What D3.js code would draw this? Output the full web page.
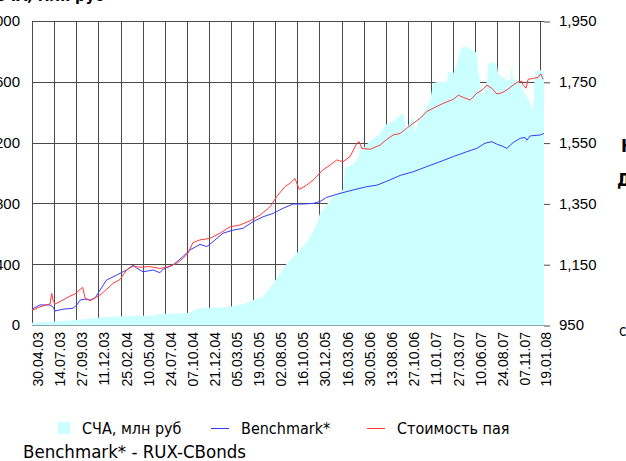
<!DOCTYPE html>
<html>
<head>
<meta charset="utf-8">
<script src="https://cdn.jsdelivr.net/npm/d3@7"></script>
<style>
  body { margin: 0; background: #fff; }
  svg { display: block; font-family: Tahoma, "DejaVu Sans Condensed", "Noto Sans", sans-serif; }
</style>
</head>
<body>
<svg id="chart" width="626" height="461"></svg>
<script>
// tick labels of the date axis (every 75 days)
const tickLabels = ["30.04.03", "14.07.03", "27.09.03", "11.12.03", "25.02.04", "10.05.04",
    "24.07.04", "07.10.04", "21.12.04", "05.03.05", "19.05.05", "02.08.05", "16.10.05",
    "30.12.05", "16.03.06", "30.05.06", "13.08.06", "27.10.06", "11.01.07", "27.03.07",
    "10.06.07", "24.08.07", "07.11.07", "19.01.08"];

const leftTicks = [0, 400, 800, 1200, 1600, 2000];
const rightTicks = [950, 1150, 1350, 1550, 1750, 1950];

// СЧА, млн руб (left axis)
const navDates = ["30.04.03", "13.06.03", "03.08.03", "20.10.03", "03.01.04", "28.03.04",
    "20.06.04", "01.07.04", "27.08.04", "17.10.04", "03.11.04", "20.11.04", "27.01.05",
    "02.03.05", "22.04.05", "19.05.05", "22.06.05", "26.07.05", "19.08.05", "11.09.05",
    "15.10.05", "18.11.05", "22.12.05", "01.01.06", "14.02.06", "20.03.06", "27.03.06",
    "13.04.06", "07.05.06", "17.05.06", "20.06.06", "24.07.06", "10.08.06", "06.09.06",
    "30.09.06", "10.10.06", "23.10.06", "03.11.06", "13.11.06", "20.11.06", "30.11.06",
    "30.12.06", "10.01.07", "20.01.07", "05.02.07", "08.03.07", "12.03.07", "29.03.07",
    "11.04.07", "21.04.07", "02.05.07", "25.05.07", "04.06.07", "18.06.07", "21.06.07",
    "28.06.07", "08.07.07", "22.07.07", "25.07.07", "11.08.07", "25.08.07", "28.08.07",
    "11.09.07", "28.09.07", "08.10.07", "15.10.07", "18.10.07", "11.11.07", "21.11.07",
    "05.12.07", "15.12.07", "25.12.07", "01.01.08", "11.01.08", "18.01.08", "31.01.08"];
const navValues = [15, 20, 25, 38, 52, 60,
    62, 72, 75, 80, 100, 112, 115,
    120, 140, 164, 186, 275, 340, 407,
    473, 548, 670, 735, 844, 890, 1030,
    1050, 1085, 1140, 1210, 1260, 1316, 1338,
    1380, 1395, 1283, 1349, 1370, 1260, 1349,
    1436, 1480, 1590, 1600, 1600, 1666, 1655,
    1720, 1805, 1830, 1825, 1805, 1790, 1697,
    1590, 1500, 1612, 1720, 1730, 1700, 1655,
    1632, 1610, 1610, 1720, 1620, 1590, 1545,
    1500, 1460, 1414, 1677, 1670, 1677, 1660];

// Benchmark* (right axis)
const benchDates = ["30.04.03", "27.05.03", "30.06.03", "10.07.03", "17.07.03", "13.08.03",
    "16.09.03", "29.09.03", "10.10.03", "27.10.03", "13.11.03", "30.11.03", "17.12.03",
    "08.01.04", "11.02.04", "16.03.04", "07.04.04", "19.04.04", "11.05.04", "14.06.04",
    "07.07.04", "17.07.04", "20.08.04", "23.09.04", "17.10.04", "20.11.04", "13.12.04",
    "03.01.05", "06.02.05", "12.03.05", "15.04.05", "19.05.05", "22.06.05", "26.07.05",
    "29.08.05", "02.10.05", "05.11.05", "09.12.05", "01.01.06", "24.01.06", "10.03.06",
    "23.04.06", "09.06.06", "13.07.06", "16.08.06", "30.09.06", "13.11.06", "29.12.06",
    "12.02.07", "29.03.07", "14.05.07", "17.06.07", "15.07.07", "07.08.07", "24.08.07",
    "10.09.07", "27.09.07", "18.10.07", "11.11.07", "28.11.07", "04.12.07", "15.12.07",
    "18.01.08", "31.01.08"];
const benchValues = [1002, 1016, 1016, 1010, 996, 1002,
    1005, 1016, 1032, 1035, 1032, 1039, 1065,
    1098, 1114, 1131, 1147, 1137, 1125, 1131,
    1122, 1133, 1147, 1175, 1197, 1215, 1208,
    1224, 1252, 1262, 1268, 1290, 1306, 1317,
    1334, 1348, 1348, 1350, 1356, 1370, 1383,
    1394, 1405, 1410, 1423, 1442, 1454, 1471,
    1487, 1504, 1520, 1531, 1548, 1553, 1545,
    1539, 1531, 1550, 1564, 1567, 1558, 1572,
    1575, 1580];

// Стоимость пая (right axis)
const unitDates = ["30.04.03", "27.05.03", "30.06.03", "06.07.03", "10.07.03", "17.07.03",
    "03.08.03", "06.09.03", "23.09.03", "10.10.03", "19.10.03", "27.10.03", "13.11.03",
    "30.11.03", "17.12.03", "08.01.04", "30.01.04", "23.02.04", "16.03.04", "07.04.04",
    "30.04.04", "03.06.04", "07.07.04", "30.07.04", "02.09.04", "23.09.04", "10.10.04",
    "27.10.04", "20.11.04", "24.12.04", "27.01.05", "02.03.05", "05.04.05", "09.05.05",
    "12.06.05", "16.07.05", "07.08.05", "04.09.05", "21.09.05", "08.10.05", "23.10.05",
    "17.11.05", "09.12.05", "11.01.06", "04.02.06", "27.02.06", "20.03.06", "13.04.06",
    "06.05.06", "14.05.06", "23.05.06", "20.06.06", "24.07.06", "16.08.06", "06.09.06",
    "30.09.06", "22.10.06", "13.11.06", "07.12.06", "29.12.06", "20.01.07", "12.02.07",
    "07.03.07", "29.03.07", "15.04.07", "02.05.07", "25.05.07", "17.06.07", "08.07.07",
    "21.07.07", "07.08.07", "24.08.07", "10.09.07", "27.09.07", "18.10.07", "04.11.07",
    "17.11.07", "21.11.07", "01.12.07", "08.12.07", "25.12.07", "11.01.08", "20.01.08",
    "28.01.08"];
const unitValues = [998, 1010, 1019, 1054, 1032, 1019,
    1027, 1045, 1052, 1067, 1074, 1039, 1030,
    1039, 1049, 1067, 1087, 1100, 1131, 1144,
    1140, 1142, 1136, 1140, 1153, 1169, 1186,
    1221, 1230, 1235, 1252, 1273, 1279, 1293,
    1312, 1339, 1372, 1405, 1416, 1432, 1396,
    1410, 1427, 1460, 1476, 1493, 1487, 1504,
    1548, 1553, 1531, 1528, 1542, 1561, 1575,
    1580, 1597, 1613, 1630, 1652, 1663, 1674,
    1684, 1692, 1706, 1699, 1690, 1712, 1725,
    1739, 1729, 1710, 1714, 1723, 1739, 1750,
    1752, 1739, 1729, 1758, 1761, 1765, 1776,
    1758];

const parseDate = d3.timeParse("%d.%m.%y");
const zip = (dates, values) => dates.map((d, i) => ({ date: parseDate(d), value: values[i] }));

const plot = { left: 32, right: 544, top: 21, bottom: 325 };

const svg = d3.select("#chart");

const x = d3.scaleTime()
            .domain([parseDate("30.04.03"), parseDate("31.01.08")])
            .range([plot.left, plot.right]);
const yLeft = d3.scaleLinear().domain([0, 2000]).range([plot.bottom, plot.top]);
const yRight = d3.scaleLinear().domain([950, 1950]).range([plot.bottom, plot.top]);

const crisp = v => Math.round(v) + 0.5;
const gridColour = "#4a4a4a";

// texts that the picture cuts off at its edges
svg.append("text")
   .attr("x", -6).attr("y", 1)
   .style("font-size", "16px").style("font-weight", "bold")
   .text("СЧА, млн руб");
svg.append("text")
   .attr("x", 621).attr("y", 152)
   .style("font-size", "18px").style("font-weight", "bold")
   .text("Нарастающий итог");
svg.append("text")
   .attr("x", 617).attr("y", 186)
   .style("font-size", "18px").style("font-weight", "bold")
   .text("Доходность");
svg.append("text")
   .attr("x", 619).attr("y", 336)
   .style("font-size", "15px")
   .text("с");

// gridlines
const grid = svg.append("g").attr("class", "grid");
grid.selectAll(".hgrid")
    .data(leftTicks)
    .enter().append("line")
    .attr("x1", plot.left).attr("x2", plot.right)
    .attr("y1", d => crisp(yLeft(d))).attr("y2", d => crisp(yLeft(d)))
    .style("stroke", gridColour);
grid.selectAll(".vgrid")
    .data(tickLabels.map(parseDate))
    .enter().append("line")
    .attr("x1", d => crisp(x(d))).attr("x2", d => crisp(x(d)))
    .attr("y1", crisp(plot.top)).attr("y2", plot.bottom)
    .style("stroke", gridColour);

// NAV area
const area = d3.area()
               .x(d => x(d.date))
               .y0(plot.bottom + 0.5)
               .y1(d => yLeft(d.value));
svg.append("path")
   .datum(zip(navDates, navValues))
   .attr("d", area)
   .style("fill", "#ccffff");

// lines
const line = d3.line()
               .x(d => x(d.date))
               .y(d => yRight(d.value));
svg.append("path")
   .datum(zip(benchDates, benchValues))
   .attr("d", line)
   .style("fill", "none")
   .style("stroke", "#3a3aff")
   .style("stroke-width", 1);
svg.append("path")
   .datum(zip(unitDates, unitValues))
   .attr("d", line)
   .style("fill", "none")
   .style("stroke", "#ff3a3a")
   .style("stroke-width", 1);

// left axis
const leftAxis = svg.append("g")
   .attr("transform", "translate(" + plot.left + ",0)")
   .call(d3.axisLeft(yLeft).tickValues(leftTicks).tickSize(0).tickPadding(12).tickFormat(d3.format("d")));
leftAxis.select(".domain").remove();
leftAxis.selectAll("text").style("font-size", "15px").style("fill", "#000").style("font-family", null);

// right axis
const rightAxis = svg.append("g")
   .attr("transform", "translate(" + plot.right + ",0)")
   .call(d3.axisRight(yRight).tickValues(rightTicks).tickSize(6).tickPadding(9).tickFormat(d3.format(",")));
rightAxis.select(".domain").remove();
rightAxis.selectAll("line").style("stroke", gridColour).attr("transform", "translate(0,0.5)");
rightAxis.selectAll("text").style("font-size", "15px").style("fill", "#000").style("font-family", null);

// date axis
const bottomAxis = svg.append("g")
   .attr("transform", "translate(0," + plot.bottom + ")")
   .call(d3.axisBottom(x).tickValues(tickLabels.map(parseDate)).tickSize(0)
           .tickFormat(d3.timeFormat("%d.%m.%y")));
bottomAxis.select(".domain").remove();
bottomAxis.selectAll("text")
   .attr("transform", "translate(5.5,7) rotate(-90)")
   .attr("text-anchor", "end")
   .attr("x", 0).attr("y", 0).attr("dy", "0.35em")
   .style("font-size", "14px").style("fill", "#000").style("font-family", null);

// legend
const legend = svg.append("g").attr("class", "legend")
                  .attr("transform", "translate(0,428)");
const items = [
    { label: "СЧА, млн руб", kind: "area", colour: "#ccffff", x: 58 },
    { label: "Benchmark*", kind: "line", colour: "#3a3aff", x: 211 },
    { label: "Стоимость пая", kind: "line", colour: "#ff3a3a", x: 367 }
];
items.forEach(d => {
    const g = legend.append("g").attr("transform", "translate(" + d.x + ",0)");
    if (d.kind === "area") {
        g.append("rect").attr("x", 0).attr("y", -6).attr("width", 12).attr("height", 12)
         .style("fill", d.colour);
        g.append("text").attr("x", 24).attr("dy", "0.35em")
         .style("font-size", "16px").text(d.label);
    } else {
        g.append("line").attr("x1", 0).attr("x2", 18).attr("y1", 0.5).attr("y2", 0.5)
         .style("stroke", d.colour);
        g.append("text").attr("x", 30).attr("dy", "0.35em")
         .style("font-size", "16px").text(d.label);
    }
});

svg.append("text")
   .attr("x", 23).attr("y", 458)
   .style("font-size", "18.5px")
   .text("Benchmark* - RUX-CBonds");
</script>
</body>
</html>
